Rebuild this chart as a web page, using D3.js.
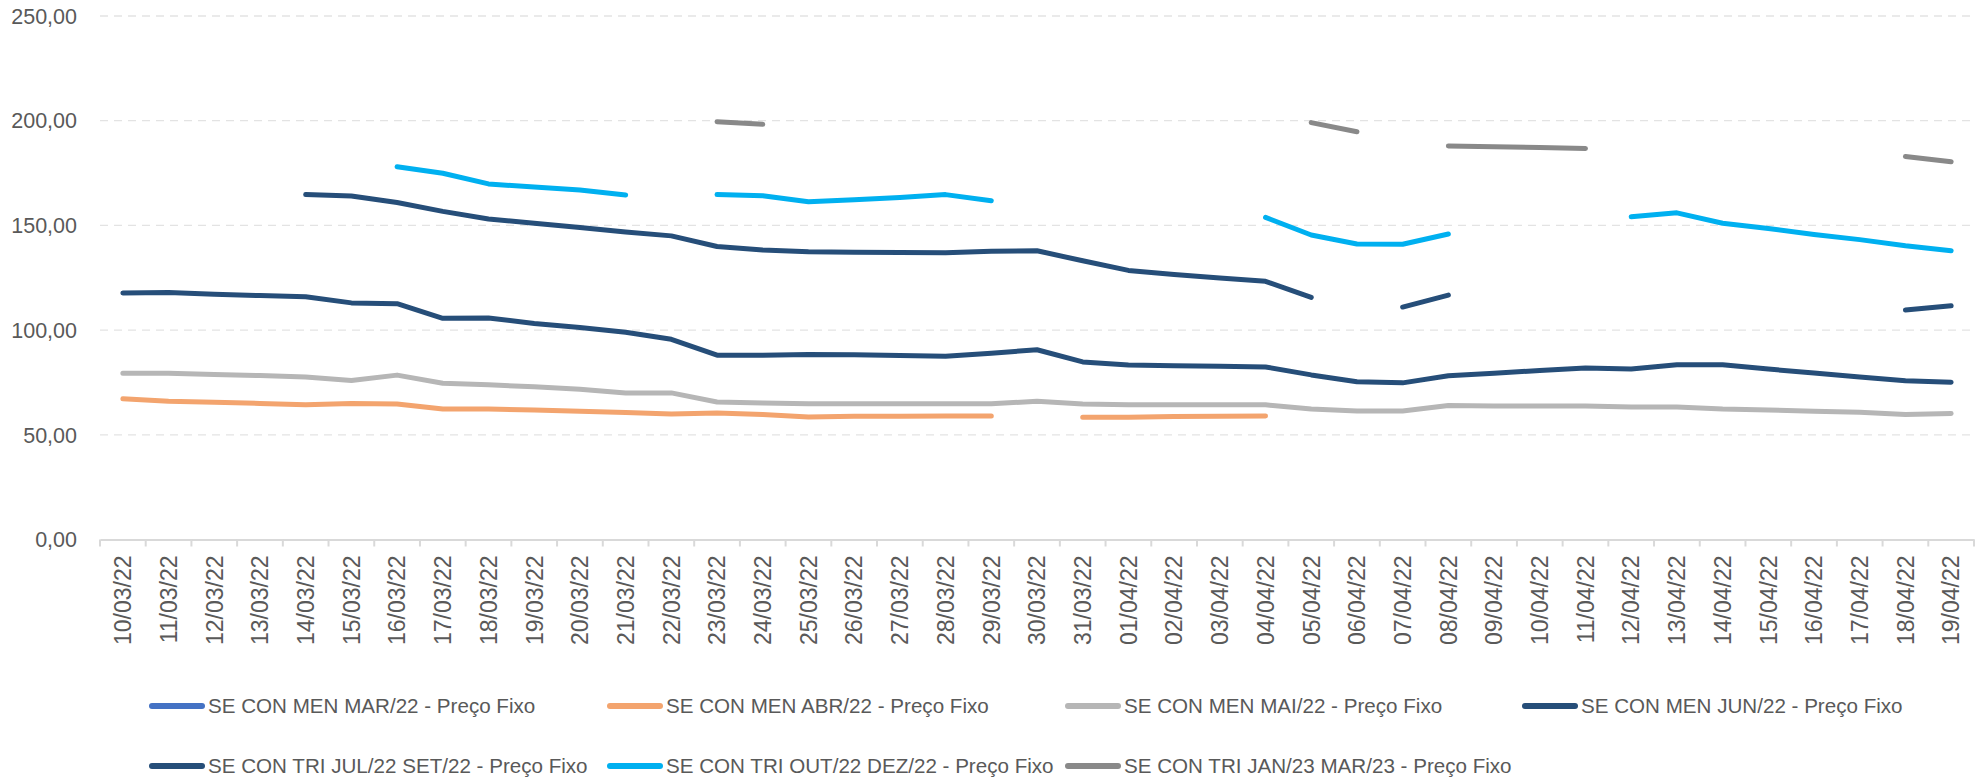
<!DOCTYPE html>
<html>
<head>
<meta charset="utf-8">
<script src="https://cdn.jsdelivr.net/npm/d3@7"></script>
<style>
  html, body { margin: 0; padding: 0; background: #fff; }
  svg { display: block; }
  text { font-family: "Liberation Sans", Arial, sans-serif; fill: #595959; }
</style>
</head>
<body>
<svg id="chart" width="1980" height="777"></svg>
<script>
// ---------- DATA ----------
const dates = ["10/03/22","11/03/22","12/03/22","13/03/22","14/03/22","15/03/22","16/03/22","17/03/22","18/03/22","19/03/22",
  "20/03/22","21/03/22","22/03/22","23/03/22","24/03/22","25/03/22","26/03/22","27/03/22","28/03/22","29/03/22",
  "30/03/22","31/03/22","01/04/22","02/04/22","03/04/22","04/04/22","05/04/22","06/04/22","07/04/22","08/04/22",
  "09/04/22","10/04/22","11/04/22","12/04/22","13/04/22","14/04/22","15/04/22","16/04/22","17/04/22","18/04/22","19/04/22"];

const yTicks = [0, 50, 100, 150, 200, 250];

const seriesNames = [
  "SE CON MEN MAR/22 - Preço Fixo",
  "SE CON MEN ABR/22 - Preço Fixo",
  "SE CON MEN MAI/22 - Preço Fixo",
  "SE CON MEN JUN/22 - Preço Fixo",
  "SE CON TRI JUL/22 SET/22 - Preço Fixo",
  "SE CON TRI OUT/22 DEZ/22 - Preço Fixo",
  "SE CON TRI JAN/23 MAR/23 - Preço Fixo"
];
const seriesColors = ["#4472c4", "#f3a46e", "#b6b6b6", "#264e79", "#264e79", "#00b0f0", "#898989"];

const menMar22 = [];
const menAbr22 = [67.2,66.0,65.5,65.0,64.3,65.0,64.7,62.3,62.3,61.8,61.3,60.6,59.9,60.4,59.7,58.5,58.8,58.9,59.0,59.0,
  null,58.4,58.4,58.7,58.9,59.0];
const menMai22 = [79.4,79.4,78.8,78.3,77.6,75.9,78.5,74.6,73.9,72.9,71.7,70.0,70.0,65.7,65.2,64.8,64.8,64.8,64.8,64.8,
  66.0,64.7,64.3,64.3,64.3,64.3,62.3,61.4,61.4,64.0,63.7,63.7,63.7,63.3,63.3,62.3,61.8,61.3,60.8,59.7,60.2];
const menJun22 = [117.7,117.9,117.1,116.5,115.9,113.0,112.6,105.6,105.8,103.2,101.2,99.0,95.6,88.0,88.0,88.4,88.2,87.9,87.5,89.0,
  90.6,84.8,83.3,83.0,82.7,82.4,78.6,75.3,74.8,78.2,79.4,80.7,81.9,81.4,83.4,83.4,81.4,79.5,77.6,75.8,75.1];
const triJulSet22 = [null,null,null,null,164.7,164.0,160.9,156.7,153.1,151.0,149.0,146.8,145.0,139.9,138.2,137.4,137.2,137.0,136.9,137.7,
  137.9,133.1,128.5,126.6,124.9,123.3,115.6,null,111.0,116.7,null,null,null,null,null,null,null,null,null,109.6,111.6];
const triOutDez22 = [null,null,null,null,null,null,178.0,174.9,169.8,168.3,166.9,164.5,null,164.7,164.2,161.3,162.3,163.3,164.7,161.8,
  null,null,null,null,null,153.8,145.4,141.1,141.0,145.9,null,null,null,154.1,156.0,151.0,148.5,145.7,143.2,140.3,137.9];
const triJanMar23 = [null,null,null,null,null,null,null,null,null,null,null,null,null,199.5,198.3,null,null,null,null,null,
  null,null,null,null,null,null,199.1,194.7,null,187.9,187.6,187.2,186.7,null,null,null,null,null,null,182.9,180.4];

const seriesValues = [menMar22, menAbr22, menMai22, menJun22, triJulSet22, triOutDez22, triJanMar23];

// ---------- CHART ----------
const svg = d3.select("#chart");
const W = 1980, H = 777;
const plot = { left: 100, right: 1974, top: 16, bottom: 539.5 };

const x = d3.scaleBand().domain(dates).range([plot.left, plot.right]).paddingInner(0).paddingOuter(0);
const y = d3.scaleLinear().domain([0, 250]).range([plot.bottom, plot.top]);
const fmt = v => d3.format(".2f")(v).replace(".", ",");

// gridlines
svg.append("g").selectAll("line")
  .data(yTicks.filter(t => t > 0))
  .join("line")
  .attr("x1", plot.left).attr("x2", plot.right)
  .attr("y1", d => y(d)).attr("y2", d => y(d))
  .attr("stroke", "#e3e3e3").attr("stroke-width", 1.3)
  .attr("stroke-dasharray", "8,6");

// y labels
svg.append("g").selectAll("text")
  .data(yTicks)
  .join("text")
  .attr("x", 77).attr("y", d => y(d))
  .attr("dy", "0.36em")
  .attr("text-anchor", "end")
  .style("font-size", "21.5px")
  .text(fmt);

// x axis via d3.axisBottom
const xAxis = d3.axisBottom(x).tickSize(0).tickFormat(d => d);
const gx = svg.append("g").attr("transform", `translate(0,${plot.bottom})`).call(xAxis);
gx.select(".domain").attr("stroke", "#d9d9d9").attr("stroke-width", 2);
gx.selectAll(".tick text")
  .attr("transform", "translate(0,16) rotate(-90)")
  .attr("x", 0).attr("y", 0)
  .attr("dy", "0.36em")
  .attr("text-anchor", "end")
  .style("font-size", "23px")
  .style("font-family", "'Liberation Sans', Arial, sans-serif")
  .attr("fill", "#595959");

// category boundary ticks
const boundaries = dates.map(d => x(d)).concat([x(dates[dates.length - 1]) + x.bandwidth()]);
svg.append("g").selectAll("line")
  .data(boundaries)
  .join("line")
  .attr("x1", d => d).attr("x2", d => d)
  .attr("y1", plot.bottom).attr("y2", plot.bottom + 7)
  .attr("stroke", "#d9d9d9").attr("stroke-width", 2);

// lines
const line = d3.line()
  .defined(d => d.v != null)
  .x(d => x(d.date) + x.bandwidth() / 2)
  .y(d => y(d.v));

seriesValues.forEach((vals, si) => {
  const pts = dates.map((date, i) => ({ date, v: vals[i] == null ? null : vals[i] }));
  svg.append("path")
    .datum(pts)
    .attr("d", line)
    .attr("fill", "none")
    .attr("stroke", seriesColors[si])
    .attr("stroke-width", 5)
    .attr("stroke-linecap", "round")
    .attr("stroke-linejoin", "round");
});

// legend
const legCols = [149, 607, 1065, 1522];
const legRows = [706, 766];
const leg = svg.append("g");
seriesNames.forEach((name, i) => {
  const cx = legCols[i % 4], cy = legRows[Math.floor(i / 4)];
  leg.append("line")
    .attr("x1", cx + 3).attr("x2", cx + 53)
    .attr("y1", cy).attr("y2", cy)
    .attr("stroke", seriesColors[i]).attr("stroke-width", 6)
    .attr("stroke-linecap", "round");
  leg.append("text")
    .attr("x", cx + 59).attr("y", cy)
    .attr("dy", "0.36em")
    .style("font-size", "20.6px")
    .text(name);
});
</script>
</body>
</html>
